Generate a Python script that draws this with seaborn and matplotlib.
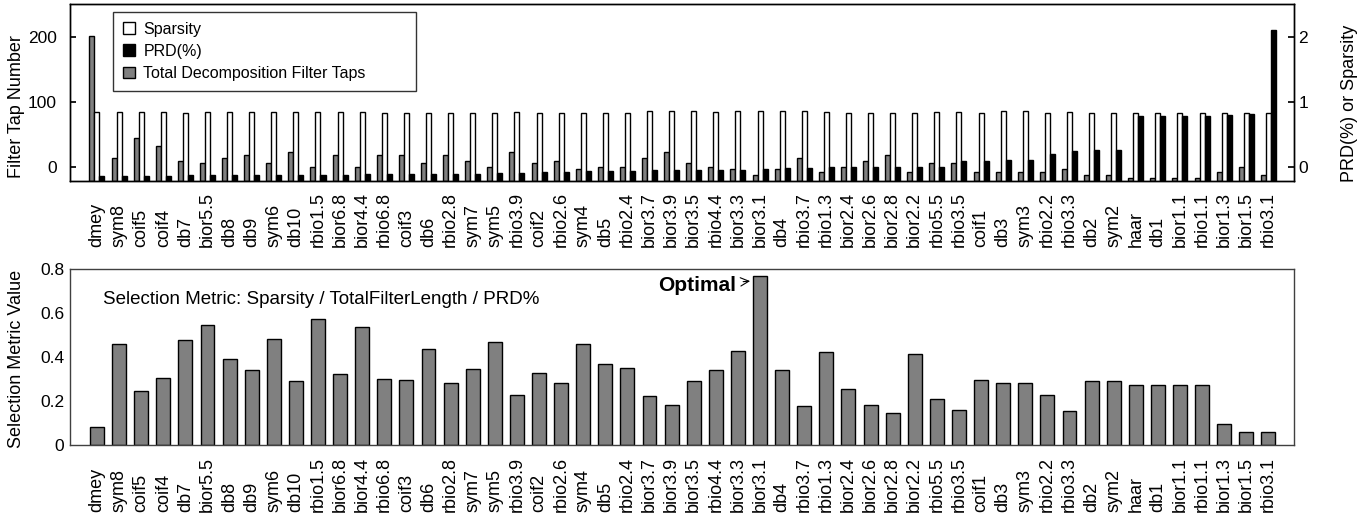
import matplotlib
matplotlib.use("Agg")
import matplotlib.pyplot as plt
from matplotlib.patches import Patch
import numpy as np
import pandas as pd
import seaborn as sns

# Wavelet families, ordered as ranked
wavelets = [
    "dmey", "sym8", "coif5", "coif4", "db7", "bior5.5", "db8", "db9", "sym6", "db10",
    "rbio1.5", "bior6.8", "bior4.4", "rbio6.8", "coif3", "db6", "rbio2.8", "sym7", "sym5",
    "rbio3.9", "coif2", "rbio2.6", "sym4", "db5", "rbio2.4", "bior3.7", "bior3.9", "bior3.5",
    "rbio4.4", "bior3.3", "bior3.1", "db4", "rbio3.7", "rbio1.3", "bior2.4", "bior2.6",
    "bior2.8", "bior2.2", "rbio5.5", "rbio3.5", "coif1", "db3", "sym3", "rbio2.2", "rbio3.3",
    "db2", "sym2", "haar", "db1", "bior1.1", "rbio1.1", "bior1.3", "bior1.5", "rbio3.1",
]

# Total decomposition filter taps (left axis)
filter_taps = [
    201, 14.0, 44.0, 31.1, 8.8, 5.2, 14.0, 17.6, 5.2, 22.8,
    0.0, 17.6, 0.0, 17.6, 17.6, 5.2, 17.6, 8.8, 0.0,
    22.8, 5.2, 8.8, -4.1, 0.0, 0.0, 14.0, 22.8, 5.2,
    0.0, -4.1, -13.0, -4.1, 14.0, -8.8, 0.0, 8.8,
    17.6, -8.8, 5.2, 5.2, -8.8, -8.8, -8.8, -8.8, -4.1,
    -13.0, -13.0, -17.6, -17.6, -17.6, -17.6, -8.8, 0.0, -13.0,
]

# Sparsity (right axis)
sparsity = [
    0.84, 0.835, 0.84, 0.835, 0.83, 0.845, 0.835, 0.835, 0.835, 0.835,
    0.835, 0.835, 0.835, 0.83, 0.83, 0.83, 0.83, 0.83, 0.83,
    0.845, 0.83, 0.83, 0.83, 0.83, 0.83, 0.85, 0.85, 0.85,
    0.835, 0.85, 0.85, 0.85, 0.85, 0.835, 0.82, 0.82,
    0.82, 0.82, 0.84, 0.84, 0.82, 0.85, 0.85, 0.825, 0.835,
    0.83, 0.83, 0.83, 0.83, 0.83, 0.83, 0.83, 0.83, 0.825,
]

# PRD in percent (right axis)
prd = [
    -0.145, -0.145, -0.145, -0.145, -0.135, -0.135, -0.13, -0.13, -0.13, -0.13,
    -0.13, -0.13, -0.12, -0.12, -0.12, -0.12, -0.11, -0.11, -0.10,
    -0.10, -0.078, -0.078, -0.067, -0.067, -0.067, -0.057, -0.057, -0.057,
    -0.057, -0.057, -0.036, -0.016, -0.016, -0.005, 0.0, 0.0,
    0.0, 0.0, 0.0, 0.083, 0.093, 0.109, 0.109, 0.192, 0.238,
    0.254, 0.254, 0.782, 0.782, 0.782, 0.782, 0.798, 0.808, 2.11,
]

# Selection metric: Sparsity / TotalFilterLength / PRD%
metric = [
    0.080, 0.459, 0.247, 0.303, 0.477, 0.544, 0.392, 0.339, 0.483, 0.292,
    0.571, 0.321, 0.535, 0.298, 0.295, 0.438, 0.282, 0.347, 0.468,
    0.229, 0.329, 0.283, 0.461, 0.370, 0.352, 0.223, 0.180, 0.292,
    0.341, 0.426, 0.770, 0.341, 0.176, 0.423, 0.253, 0.180,
    0.144, 0.412, 0.211, 0.158, 0.295, 0.280, 0.280, 0.226, 0.155,
    0.289, 0.289, 0.271, 0.271, 0.271, 0.271, 0.094, 0.058, 0.061,
]

series_names = ["Total Decomposition Filter Taps", "Sparsity", "PRD(%)"]
series_colors = {series_names[0]: "#808080", series_names[1]: "#ffffff", series_names[2]: "#000000"}

sns.set_theme(style="white")
plt.rcParams["font.family"] = ["Liberation Sans", "DejaVu Sans"]
plt.rcParams["axes.linewidth"] = 1.0
for key in ["text.color", "axes.labelcolor", "xtick.color", "ytick.color", "axes.edgecolor"]:
    plt.rcParams[key] = "black"

LEFT_LIM = (-22, 251)
RIGHT_LIM = (-0.22, 2.51)
XLIM = (-1.24, 54.16)

fig = plt.figure(figsize=(13.64, 5.23), dpi=100)
ax_top = fig.add_axes([0.051, 0.654, 0.8977, 0.3393])
ax_right = ax_top.twinx()
ax_bot = fig.add_axes([0.051, 0.149, 0.8977, 0.3367])

# Bars rise from the lower edge of each axis
taps_df = pd.DataFrame({
    "wavelet": wavelets,
    "series": series_names[0],
    "height": np.array(filter_taps) - LEFT_LIM[0],
})
right_df = pd.concat([
    pd.DataFrame({"wavelet": wavelets, "series": series_names[1],
                  "height": np.array(sparsity) - RIGHT_LIM[0]}),
    pd.DataFrame({"wavelet": wavelets, "series": series_names[2],
                  "height": np.array(prd) - RIGHT_LIM[0]}),
], ignore_index=True)

common = dict(x="wavelet", y="height", hue="series", order=wavelets,
              hue_order=series_names, palette=series_colors, saturation=1,
              dodge=True, width=0.68, gap=0, edgecolor="black", linewidth=1.0,
              errorbar=None, legend=False)
sns.barplot(data=taps_df, ax=ax_top, bottom=LEFT_LIM[0], **common)
sns.barplot(data=right_df, ax=ax_right, bottom=RIGHT_LIM[0], **common)


def bottom_aligned_labels(ax, pad):
    """Rotated category labels whose first letters share a common baseline."""
    ax.set_xticks(range(len(wavelets)))
    ax.set_xticklabels(wavelets, rotation=90, va="bottom", ha="center")
    ax.tick_params(axis="x", length=0, labelsize=13, pad=pad)


ax_top.set_ylim(*LEFT_LIM)
ax_right.set_ylim(*RIGHT_LIM)
ax_top.set_xlim(*XLIM)
ax_top.set_yticks([0, 100, 200])
ax_right.set_yticks([0, 1, 2])
ax_top.set_xlabel("")
ax_right.set_xlabel("")
ax_top.set_ylabel("Filter Tap Number", fontsize=13)
ax_right.set_ylabel("PRD(%) or Sparsity", fontsize=13)
ax_top.yaxis.set_label_coords(-0.036, 0.42)
ax_right.yaxis.set_label_coords(1.0385, 0.437)
ax_top.tick_params(axis="y", direction="in", length=4, labelsize=12.5, pad=9)
ax_right.tick_params(axis="y", direction="in", length=4, labelsize=12.5, pad=3)
bottom_aligned_labels(ax_top, pad=47.5)

handles = [Patch(facecolor=series_colors[n], edgecolor="black", linewidth=1.0)
           for n in ["Sparsity", "PRD(%)", "Total Decomposition Filter Taps"]]
leg = ax_right.legend(handles, ["Sparsity", "PRD(%)", "Total Decomposition Filter Taps"],
                      loc="upper left", bbox_to_anchor=(0.0355, 0.0, 0.2474, 0.952),
                      mode="expand", borderaxespad=0,
                      fontsize=11.5, frameon=True, fancybox=False, edgecolor="black",
                      handlelength=0.75, handleheight=0.75, handletextpad=0.55,
                      labelspacing=0.45, borderpad=0.6)
leg.get_frame().set_linewidth(1.0)

# Selection metric panel
metric_df = pd.DataFrame({"wavelet": wavelets, "metric": metric})
sns.barplot(data=metric_df, x="wavelet", y="metric", order=wavelets, color="#808080",
            saturation=1, width=0.63, edgecolor="black", linewidth=1.0,
            errorbar=None, ax=ax_bot)
ax_bot.set_xlim(*XLIM)
ax_bot.set_ylim(0, 0.8)
ax_bot.set_yticks([0, 0.2, 0.4, 0.6, 0.8])
ax_bot.set_yticklabels(["0", "0.2", "0.4", "0.6", "0.8"])
ax_bot.set_xlabel("")
ax_bot.set_ylabel("Selection Metric Value", fontsize=13)
ax_bot.yaxis.set_label_coords(-0.036, 0.49)
ax_bot.tick_params(axis="y", direction="in", length=4, labelsize=12.5, pad=4)
bottom_aligned_labels(ax_bot, pad=48.2)
for sp in ax_bot.spines.values():
    sp.set_color("#404040")

ax_bot.text(0.027, 0.824, "Selection Metric: Sparsity / TotalFilterLength / PRD%",
            transform=ax_bot.transAxes, fontsize=13.5, va="center", ha="left")

best = int(np.argmax(metric))
ax_bot.annotate("Optimal", xy=(best - 0.45, metric[best] - 0.025),
                xytext=(best - 1.1, metric[best] - 0.045),
                fontsize=15, fontweight="bold", ha="right", va="center",
                arrowprops=dict(arrowstyle="->", lw=0.8, color="black",
                                shrinkA=3, shrinkB=0))

fig.savefig("out.png", dpi=100)
